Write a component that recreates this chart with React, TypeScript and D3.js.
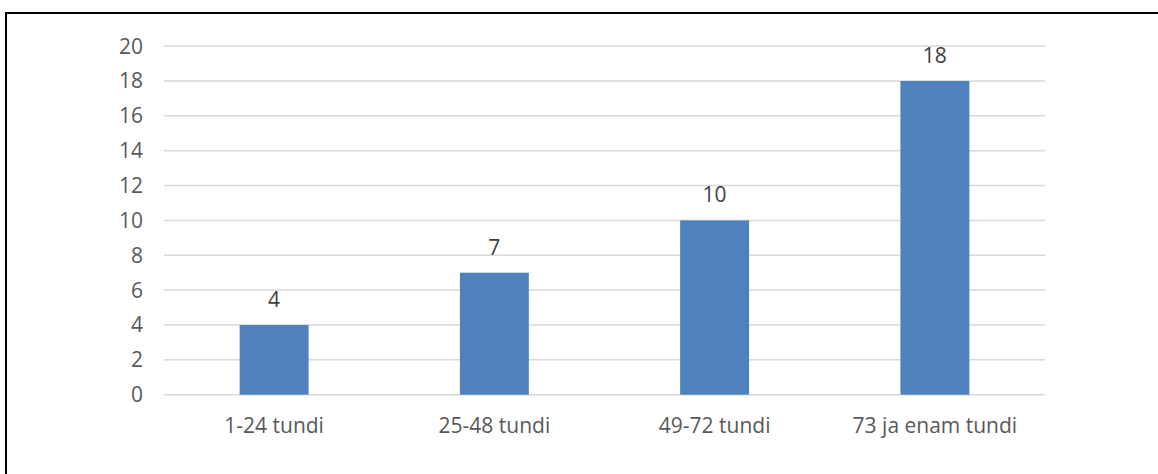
import React from "react";
import * as d3 from "d3";

const categories = ["1-24 tundi", "25-48 tundi", "49-72 tundi", "73 ja enam tundi"];
const values = [4, 7, 10, 18];
const yTicks = [0, 2, 4, 6, 8, 10, 12, 14, 16, 18, 20];

const W = 1158;
const H = 474;
const plotLeft = 164;
const plotRight = 1045;
const plotTop = 46.1;
const plotBottom = 394.7;
const font = "'Open Sans', sans-serif";

export default function App() {
  const x = d3
    .scaleBand<string>()
    .domain(categories)
    .range([plotLeft, plotRight])
    .paddingInner(0.687)
    .paddingOuter(0.687 / 2);
  const y = d3.scaleLinear().domain([0, 20]).range([plotBottom, plotTop]);

  return (
    <svg
      width={W}
      height={H}
      style={{ position: "absolute", left: 0, top: 0, background: "#fff" }}
    >
      <rect x={0} y={0} width={W} height={H} fill="#fff" />
      {/* frame: top and left edges */}
      <line x1={6} y1={13} x2={W} y2={13} stroke="#000" strokeWidth={2} />
      <line x1={6} y1={12} x2={6} y2={H} stroke="#000" strokeWidth={2} />

      {yTicks.map((t) => (
        <g key={t}>
          <line
            x1={plotLeft}
            x2={plotRight}
            y1={y(t)}
            y2={y(t)}
            stroke="#d9d9d9"
            strokeWidth={1.5}
          />
          <text
            x={143}
            y={y(t) + 7.5}
            textAnchor="end"
            fontFamily={font}
            fontSize={21}
            fill="#595959"
          >
            {t}
          </text>
        </g>
      ))}

      {categories.map((c, i) => {
        const bx = x(c)!;
        const bw = x.bandwidth();
        const top = y(values[i]);
        return (
          <g key={c}>
            <rect x={bx} y={top} width={bw} height={y(0) - top} fill="#4f81bd" />
            <text
              x={bx + bw / 2}
              y={top - 18}
              textAnchor="middle"
              fontFamily={font}
              fontSize={21}
              fill="#404040"
            >
              {values[i]}
            </text>
            <text
              x={bx + bw / 2}
              y={433}
              textAnchor="middle"
              fontFamily={font}
              fontSize={21}
              fill="#595959"
            >
              {c}
            </text>
          </g>
        );
      })}
    </svg>
  );
}
